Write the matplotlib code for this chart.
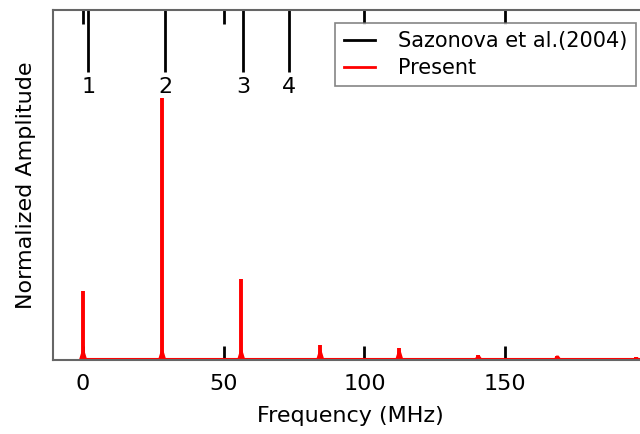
import matplotlib
matplotlib.use("Agg")
import matplotlib.pyplot as plt
from matplotlib.lines import Line2D

# red spectrum peaks (MHz, normalized amplitude)
peak_freq = [0.0, 28.1, 56.2, 84.3, 112.4, 140.5, 168.6, 196.7]
peak_amp = [0.26, 1.0, 0.305, 0.053, 0.042, 0.016, 0.014, 0.008]

# Sazonova et al. (2004) mode positions
saz_freq = [1.8, 29.2, 57.0, 73.3]
saz_labels = ["1", "2", "3", "4"]

fig = plt.figure(figsize=(6.4, 4.34), dpi=100)
ax = fig.add_axes([53 / 640, 74 / 434, 595 / 640, 350 / 434])

# spectrum
ax.plot([0, 200], [0, 0], color="red", lw=1.5)
for f, a in zip(peak_freq, peak_amp):
    ax.fill([f - 1.4, f - 0.4, f, f + 0.4, f + 1.4],
            [0, min(a, 0.035), a, min(a, 0.035), 0], color="red", lw=0)
ax.vlines(peak_freq, 0, peak_amp, color="red", lw=2.8)

# reference lines at the top
ax.vlines(saz_freq, 1.10, 1.34, color="black", lw=2)
for f, lab in zip(saz_freq, saz_labels):
    ax.text(f, 1.04, lab, ha="center", va="center", fontsize=16)

ax.set_xlim(-10.7, 200.8)
ax.set_ylim(-0.003, 1.336)
ax.set_xticks([0, 50, 100, 150])
ax.set_yticks([])
ax.tick_params(axis="x", direction="in", top=True, length=10, width=2,
               labelsize=16, pad=10)
for s in ax.spines.values():
    s.set_color("#666666")
    s.set_linewidth(1.5)

ax.set_xlabel("Frequency (MHz)", fontsize=16, labelpad=9)
ax.set_ylabel("Normalized Amplitude", fontsize=16, labelpad=12)

handles = [Line2D([], [], color="black", lw=2),
           Line2D([], [], color="red", lw=2)]
leg = ax.legend(handles, ["Sazonova et al.(2004)", "Present"], loc="upper right",
                fontsize=15, fancybox=False, handlelength=1.5, handletextpad=1.1,
                borderaxespad=0.6, labelspacing=0.35)
leg.get_frame().set_edgecolor("#666666")
leg.get_frame().set_linewidth(1.2)

fig.savefig("out.png", dpi=100)
